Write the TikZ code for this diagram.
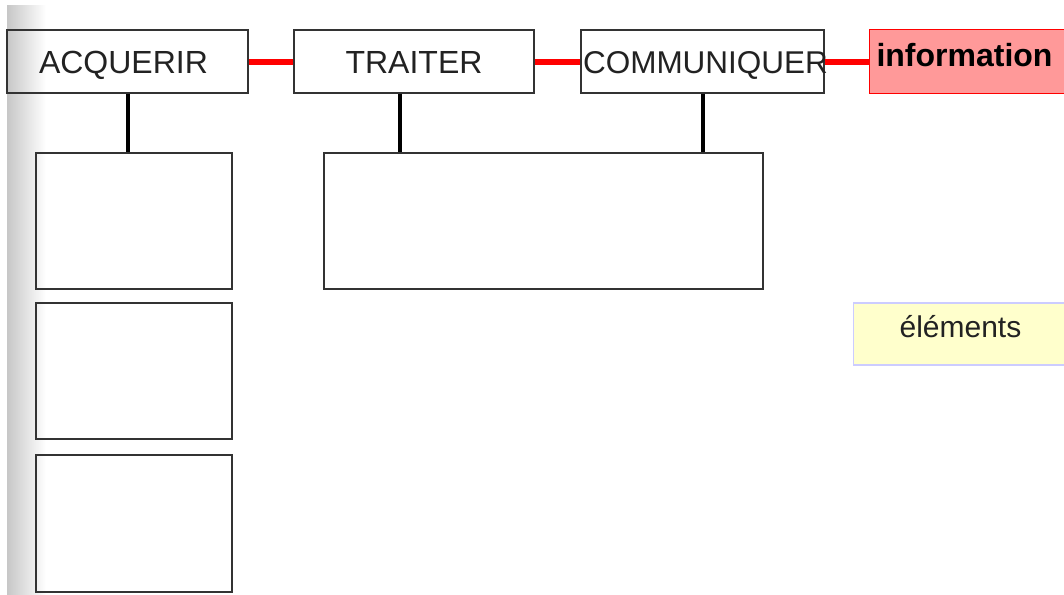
\documentclass[tikz,border=0pt]{standalone}
\usepackage{fontspec}
\setmainfont{Liberation Sans}
\definecolor{infofill}{HTML}{FF9999}
\definecolor{elemfill}{HTML}{FFFFCC}
\definecolor{elemline}{HTML}{CCCCFF}
\definecolor{frameline}{HTML}{333333}
\definecolor{inktext}{HTML}{222222}
\begin{document}
\begin{tikzpicture}[x=1pt,y=-1pt,
  frame/.style={draw=frameline, line width=1.4pt, rectangle, inner sep=0pt},
  head/.style={frame, minimum height=63pt, text=inktext, text height=23pt, text depth=0pt,
    font=\fontsize{32}{38}\selectfont},
  slot/.style={frame, minimum width=196pt, minimum height=136pt},
  chain/.style={draw=red, line width=6pt},
  stem/.style={draw=black, line width=4pt}
]
\useasboundingbox (0,0) rectangle (1064,594);
\clip (0,0) rectangle (1064,594);
\fill[white] (0,0) rectangle (1064,594);
% shaded margin on the left
\shade[left color=black!22, right color=white] (7,6) rectangle (46,594);

% top row of functions
\node[head, minimum width=241pt] (acq) at (127.5,61.5) {\hspace{-8pt}ACQUERIR};
\node[head, minimum width=240pt] (tr)  at (414,61.5) {TRAITER};
\node[head, minimum width=243pt, font=\fontsize{31.5}{38}\selectfont] (com) at (702.5,61.5)
  {\makebox[243pt][l]{\hspace{2pt}COMMUNIQUER}};
\node[draw=red, line width=1pt, fill=infofill, anchor=west, inner xsep=7pt, inner ysep=0pt,
      minimum height=63pt, text width=196pt, align=left, text depth=14pt,
      font=\fontsize{32}{38}\selectfont\bfseries, text=black] (info) at (869,61.5) {information};

% empty boxes below
\node[slot] (b1) at (134,221) {};
\node[slot] (b2) at (134,371) {};
\node[slot, minimum height=137pt] (b3) at (134,523.5) {};
\node[frame, minimum width=439pt, minimum height=136pt] (big) at (543.5,221) {};

\node[draw=elemline, line width=1.2pt, fill=elemfill, anchor=west, inner xsep=46pt, inner ysep=0pt,
      minimum height=62pt, text width=170pt, align=left, text depth=16pt, text=inktext,
      font=\fontsize{30}{36}\selectfont] (elem) at (853,334) {éléments};

% red links along the row
\draw[chain] (acq.east) -- (tr.west);
\draw[chain] (tr.east) -- (com.west);
\draw[chain] (com.east) -- (info.west);

% black stems down to the boxes
\draw[stem] (acq.south) -- (acq.south |- b1.north);
\coordinate (trfoot) at ([xshift=-14pt]tr.south);
\draw[stem] (trfoot) -- (trfoot |- big.north);
\draw[stem] (com.south) -- (com.south |- big.north);
\end{tikzpicture}
\end{document}
